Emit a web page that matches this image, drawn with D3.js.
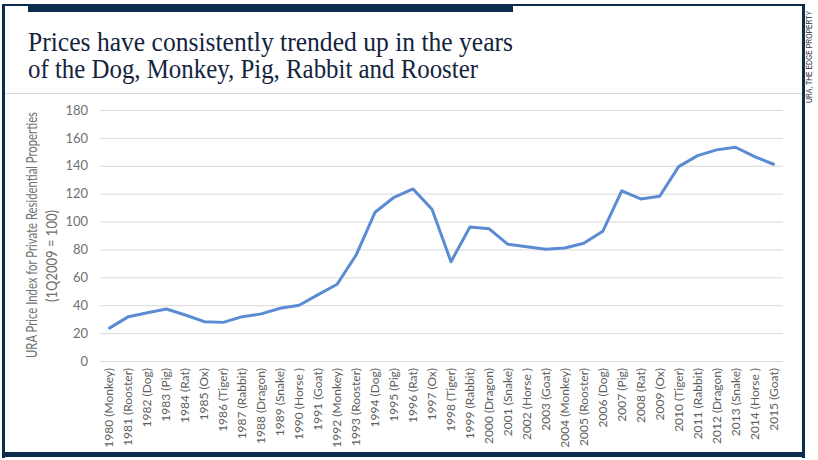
<!DOCTYPE html>
<html>
<head>
<meta charset="utf-8">
<script src="https://cdn.jsdelivr.net/npm/d3@7"></script>
<style>
html,body{margin:0;padding:0;background:#fff;}
svg{display:block;}
</style>
</head>
<body>
<svg id="chart" width="818" height="460"></svg>
<script>
const years = ["1980 (Monkey)","1981 (Rooster)","1982 (Dog)","1983 (Pig)","1984 (Rat)","1985 (Ox)","1986 (Tiger)","1987 (Rabbit)","1988 (Dragon)","1989 (Snake)","1990 (Horse )","1991 (Goat)","1992 (Monkey)","1993 (Rooster)","1994 (Dog)","1995 (Pig)","1996 (Rat)","1997 (Ox)","1998 (Tiger)","1999 (Rabbit)","2000 (Dragon)","2001 (Snake)","2002 (Horse )","2003 (Goat)","2004 (Monkey)","2005 (Rooster)","2006 (Dog)","2007 (Pig)","2008 (Rat)","2009 (Ox)","2010 (Tiger)","2011 (Rabbit)","2012 (Dragon)","2013 (Snake)","2014 (Horse )","2015 (Goat)"];
const priceIndex = [23.6,31.8,34.6,37.3,33.0,28.2,27.7,31.8,33.8,37.8,40.0,47.6,55.0,76.0,106.7,117.4,123.4,108.8,71.2,96.1,94.9,83.7,82.0,80.1,81.0,84.4,93.0,122.0,116.2,118.1,139.4,147.3,151.4,153.3,146.6,141.1];
const yTicks = [0,20,40,60,80,100,120,140,160,180];
const titleLines = ["Prices have consistently trended up in the years","of the Dog, Monkey, Pig, Rabbit and Rooster"];
const yTitleLines = ["URA Price Index for Private Residential Properties","(1Q2009 = 100)"];
const sourceText = "URA, THE EDGE PROPERTY";

const navy = "#0b2c4c";
const svg = d3.select("#chart");

// frame
svg.append("rect").attr("x",0).attr("y",0).attr("width",818).attr("height",460).attr("fill","#fff");
svg.append("rect").attr("x",2).attr("y",4).attr("width",803).attr("height",2).attr("fill",navy);
svg.append("rect").attr("x",28).attr("y",4).attr("width",485).attr("height",8).attr("fill",navy);
svg.append("rect").attr("x",2).attr("y",4).attr("width",3).attr("height",454).attr("fill",navy);
svg.append("rect").attr("x",802).attr("y",4).attr("width",3).attr("height",454).attr("fill",navy);
svg.append("rect").attr("x",2).attr("y",452).attr("width",803).attr("height",5).attr("fill",navy);
// separator
svg.append("line").attr("x1",5).attr("x2",802).attr("y1",93.5).attr("y2",93.5).attr("stroke","#d6d6d6").attr("stroke-width",1);

// title
const titleLens = [485, 450];
titleLines.forEach((t,i)=>{
  svg.append("text").attr("x",28).attr("y",51+i*27)
    .attr("font-family","'Liberation Serif','DejaVu Serif',serif")
    .attr("font-size",27).attr("fill","#14233d")
    .attr("textLength",titleLens[i]).attr("lengthAdjust","spacingAndGlyphs")
    .text(t);
});

// source text (vertical)
svg.append("text").attr("transform","translate(812,103) rotate(-90)")
  .attr("font-family","'Liberation Sans Narrow','Liberation Sans',sans-serif")
  .attr("font-size",9.5).attr("fill","#333")
  .attr("textLength",92).attr("lengthAdjust","spacingAndGlyphs")
  .text(sourceText);

// scales
const x = d3.scaleBand().domain(years).range([100,783]).padding(0);
const y = d3.scaleLinear().domain([0,180]).range([361,110]);

// gridlines
const grid = svg.append("g").attr("transform","translate(100,0)")
  .call(d3.axisLeft(y).tickValues(yTicks).tickSize(-683).tickFormat(""));
grid.select(".domain").remove();
grid.selectAll(".tick line").attr("stroke","#d9d9d9").attr("stroke-width",1);

// y labels
const yAx = svg.append("g").attr("transform","translate(100,0)")
  .call(d3.axisLeft(y).tickValues(yTicks).tickSize(0).tickPadding(12));
yAx.select(".domain").remove();
yAx.selectAll("text").attr("font-family","Lato,'Open Sans',sans-serif").attr("font-size",13).attr("fill","#707070");

// x labels
const xAx = svg.append("g").attr("transform","translate(0,361)")
  .call(d3.axisBottom(x).tickSize(0).tickPadding(0));
xAx.select(".domain").remove();
xAx.selectAll("text")
  .attr("font-family","Lato,'Open Sans',sans-serif").attr("font-size",12).attr("fill","#5e5e5e")
  .attr("text-anchor","end").attr("dy",0)
  .attr("transform","translate(4,7) rotate(-90)");

// y title
const yTitlePos = [[37,235,246],[57,256,92]];
yTitleLines.forEach((t,i)=>{
  svg.append("text").attr("transform",`translate(${yTitlePos[i][0]},${yTitlePos[i][1]}) rotate(-90)`)
    .attr("text-anchor","middle")
    .attr("font-family","Lato,'Open Sans',sans-serif").attr("font-size",14.5).attr("fill","#707070")
    .attr("textLength",yTitlePos[i][2]).attr("lengthAdjust","spacingAndGlyphs")
    .text(t);
});

// line
const line = d3.line().x((d,i)=>x(years[i])+x.bandwidth()/2).y(d=>y(d));
svg.append("path").datum(priceIndex).attr("d",line)
  .attr("fill","none").attr("stroke","#5b8bd2").attr("stroke-width",3).attr("stroke-linejoin","round").attr("stroke-linecap","round");
</script>
</body>
</html>
